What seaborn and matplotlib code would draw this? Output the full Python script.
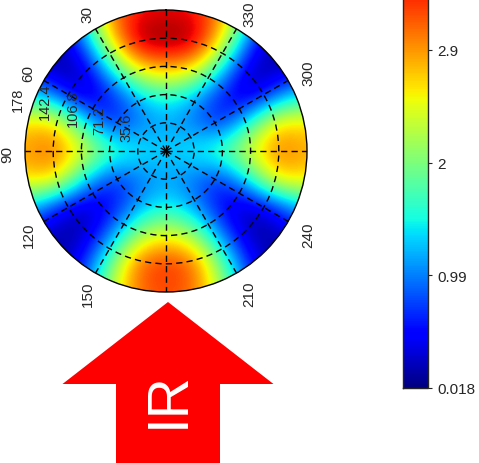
import numpy as np
import matplotlib
matplotlib.use("Agg")
import matplotlib.pyplot as plt
import matplotlib.patches as mpatches
import matplotlib.transforms as mtransforms
import seaborn as sns

# field on an 11 x 11 grid (step 35.6), rows from top (+178) to bottom (-178),
# columns from left (-178) to right (+178); nodes outside the disk continue the rim values
grid_step = 35.6
y_p178 = [0.30, 0.50, 1.50, 3.00, 3.45, 3.50, 3.45, 3.00, 1.50, 0.50, 0.30]
y_p142 = [0.10, 0.10, 0.80, 2.65, 3.85, 3.90, 3.85, 2.65, 0.80, 0.10, 0.10]
y_p107 = [0.40, 0.10, 0.20, 1.45, 2.75, 3.00, 2.75, 1.45, 0.20, 0.10, 0.40]
y_p71 = [1.45, 0.90, 0.15, 0.50, 1.25, 1.65, 1.25, 0.50, 0.15, 0.90, 1.45]
y_p36 = [2.65, 2.80, 1.60, 0.55, 0.90, 1.15, 0.90, 0.55, 1.60, 2.75, 2.60]
y_0 = [2.90, 3.15, 2.60, 1.85, 1.50, 1.30, 1.50, 1.85, 2.55, 3.10, 2.85]
y_m36 = [2.65, 2.80, 1.50, 0.60, 0.90, 1.15, 0.90, 0.60, 1.50, 2.75, 2.60]
y_m71 = [1.35, 0.60, 0.15, 0.40, 1.10, 1.50, 1.10, 0.40, 0.15, 0.60, 1.35]
y_m107 = [0.50, 0.15, 0.15, 0.95, 2.15, 2.55, 2.15, 0.95, 0.15, 0.15, 0.50]
y_m142 = [0.20, 0.10, 0.50, 1.85, 3.20, 3.40, 3.20, 1.85, 0.50, 0.10, 0.20]
y_m178 = [0.20, 0.20, 0.80, 2.20, 3.10, 3.25, 3.10, 2.20, 0.80, 0.20, 0.20]

rmax = 178.0
ring_ticks = [35.6, 71.2, 106.8, 142.4]
angle_labels = [0, 30, 60, 90, 120, 150, 180, 210, 240, 300, 330]
radial_labels = ["35.6", "71.2", "106.8", "142.4", "178"]
radial_values = [35.6, 71.2, 106.8, 142.4, 178.0]
cbar_ticks = [0.018, 0.9885, 1.959, 2.9295, 3.9]
cbar_labels = ["0.018", "0.99", "2", "2.9", "3.9"]
vmin, vmax = 0.018, 3.9

sns.set_style("white")
plt.rcParams["font.family"] = ["Liberation Sans", "DejaVu Sans"]
cmap = matplotlib.colormaps["jet"]

W, H = 479, 464
fig = plt.figure(figsize=(W / 100, H / 100), dpi=100)

# disk: centre (166, 152) px, radius 141 px
cx, cy, rad = 166, 152, 141
box = [(cx - rad) / W, 1 - (cy + rad) / H, 2 * rad / W, 2 * rad / H]

# colour field, smoothed by the image resampler and clipped to the disk
axc = fig.add_axes(box)
Z = np.array([y_p178, y_p142, y_p107, y_p71, y_p36, y_0,
              y_m36, y_m71, y_m107, y_m142, y_m178])
half = rmax + grid_step / 2
im = axc.imshow(Z, cmap=cmap, vmin=vmin, vmax=vmax, interpolation="bicubic",
                extent=(-half, half, -half, half), origin="upper")
axc.set_xlim(-rmax, rmax)
axc.set_ylim(-rmax, rmax)
axc.axis("off")
im.set_clip_path(mpatches.Circle((0, 0), rmax, transform=axc.transData))

# polar grid on top
ax = fig.add_axes(box, projection="polar")
ax.set_facecolor("none")
ax.set_theta_zero_location("N")
ax.set_theta_direction(1)
ax.set_ylim(0, rmax)
ax.set_xticks(np.deg2rad(np.arange(0, 360, 30)))
ax.set_yticks(ring_ticks)
ax.set_xticklabels([])
ax.set_yticklabels([])
ax.set_axisbelow(False)
ax.grid(True, color="black", linestyle=(0, (4.5, 3.0)), linewidth=1.0)
ax.spines["polar"].set_color("black")
ax.spines["polar"].set_linewidth(1.0)

lab_trans = mtransforms.offset_copy(ax.transData, fig=fig, x=2.5, y=-2.5, units="dots")
for a in angle_labels:
    ax.text(np.deg2rad(a), 204, str(a), transform=lab_trans, rotation=90,
            ha="center", va="center", rotation_mode="anchor", fontsize=11, clip_on=False)

trans = mtransforms.offset_copy(ax.transData, fig=fig, x=-12, y=2, units="dots")
for rv, lab in zip(radial_values, radial_labels):
    ax.text(np.deg2rad(74.4), rv, lab, transform=trans, rotation=90, ha="left",
            va="center", rotation_mode="anchor", fontsize=10.5, clip_on=False)

# colour bar (its top runs past the top of the picture)
cb_bottom = 389
cb_top = -62
cax = fig.add_axes([402.5 / W, 1 - cb_bottom / H, 25.5 / W, (cb_bottom - cb_top) / H])
cb = fig.colorbar(im, cax=cax, ticks=cbar_ticks)
cb.set_ticklabels(cbar_labels)
cb.outline.set_linewidth(1.0)
cax.tick_params(direction="out", length=3, width=0.8, labelsize=11, pad=4)

# IR arrow
ov = fig.add_axes([0, 0, 1, 1])
ov.set_xlim(0, W)
ov.set_ylim(H, 0)
ov.axis("off")
ov.add_patch(mpatches.FancyArrow(168, 470, 0, -167, width=104, head_width=211,
                                 head_length=82, length_includes_head=True,
                                 color="#ff0000", lw=0))
ov.text(169, 400, "IR", color="white", fontsize=41, rotation=90,
        ha="center", va="center")

fig.savefig("out.png", dpi=100)
